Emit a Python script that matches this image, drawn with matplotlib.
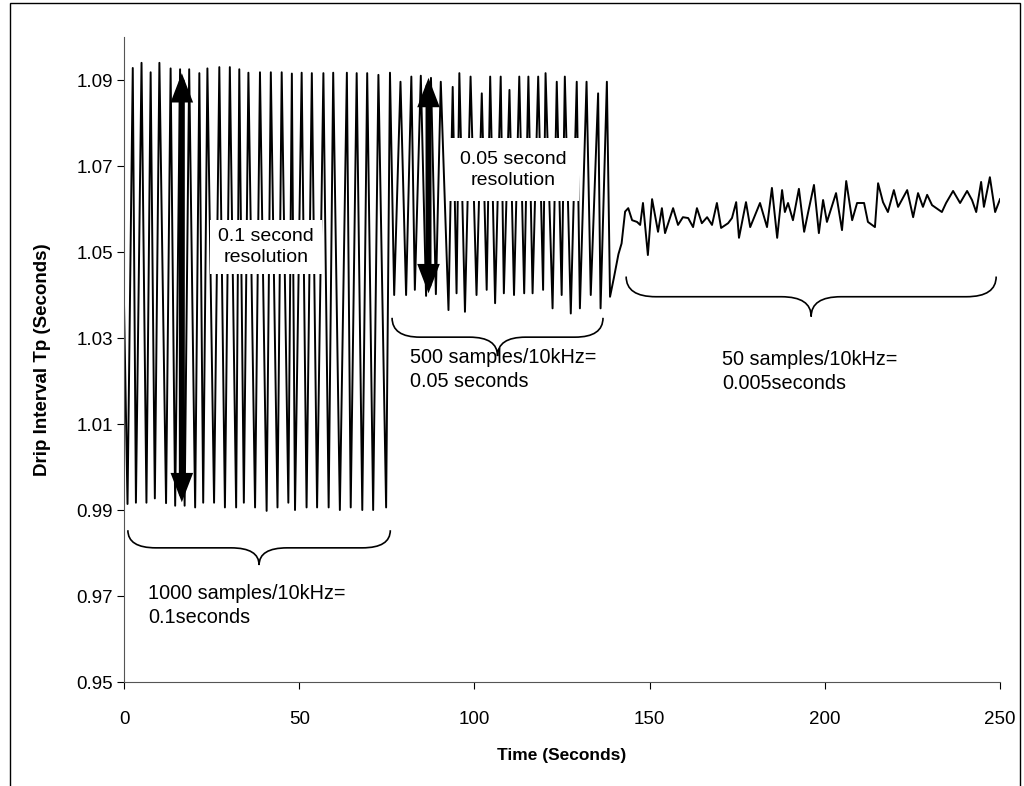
import matplotlib
matplotlib.use('Agg')
import matplotlib.pyplot as plt
from matplotlib.patches import Rectangle, PathPatch
from matplotlib.path import Path

plt.rcParams['font.family'] = ['Liberation Sans', 'DejaVu Sans']

# 1000 samples per interval -> 0.1 s resolution
t_1000 = [0.0, 1.0, 2.5, 3.4, 5.0, 6.4, 7.6, 8.8, 10.1, 12.0, 13.3, 14.6, 16.0, 17.3,
          18.6, 20.3, 21.5, 22.6, 23.8, 25.7, 27.2, 28.8, 30.2, 32.0, 32.9, 34.2,
          35.5, 37.4, 38.8, 40.7, 41.9, 43.8, 45.0, 46.9, 47.9, 48.8, 50.7, 52.1,
          53.6, 55.1, 56.9, 58.4, 59.7, 61.6, 63.6, 64.7, 66.4, 68.0, 69.4, 71.1,
          72.6, 74.8, 75.9]
tp_1000 = [1.0380, 0.9914, 1.0928, 0.9917, 1.0940, 0.9917, 1.0918, 0.9927, 1.0940,
           0.9916, 1.0927, 0.9910, 1.0925, 0.9910, 1.0925, 0.9906, 1.0916, 0.9917,
           1.0927, 0.9917, 1.0930, 0.9906, 1.0930, 0.9906, 1.0925, 0.9917, 1.0917,
           0.9906, 1.0918, 0.9898, 1.0918, 0.9906, 1.0918, 0.9917, 1.0915, 0.9900,
           1.0917, 0.9906, 1.0916, 0.9906, 1.0916, 0.9906, 1.0917, 0.9900, 1.0917,
           0.9906, 1.0916, 0.9900, 1.0916, 0.9900, 1.0912, 0.9906, 1.0917]

# 500 samples per interval -> 0.05 s resolution
t_500 = [77.1, 78.9, 80.5, 82.0, 83.0, 84.7, 86.2, 87.6, 89.0, 90.4, 92.6, 93.8,
         94.9, 95.7, 97.3, 98.9, 100.6, 102.1, 103.5, 104.5, 105.9, 107.5, 108.4,
         110.0, 111.3, 112.8, 114.2, 115.4, 116.6, 118.2, 119.6, 120.3, 122.3,
         123.5, 124.9, 125.8, 127.5, 129.2, 130.1, 132.0, 133.2, 135.3, 136.0,
         137.8, 138.7]
tp_500 = [1.0400, 1.0896, 1.0400, 1.0908, 1.0412, 1.0910, 1.0398, 1.0905, 1.0402,
          1.0896, 1.0365, 1.0884, 1.0404, 1.0916, 1.0361, 1.0908, 1.0400, 1.0869,
          1.0412, 1.0908, 1.0381, 1.0908, 1.0404, 1.0877, 1.0400, 1.0908, 1.0404,
          1.0908, 1.0404, 1.0908, 1.0412, 1.0916, 1.0369, 1.0896, 1.0400, 1.0908,
          1.0357, 1.0896, 1.0369, 1.0896, 1.0400, 1.0869, 1.0369, 1.0896, 1.0396]

# 50 samples per interval -> 0.005 s resolution
t_50 = [139.8, 141.1, 142.0, 143.0, 143.9, 145.0, 146.4, 147.3, 148.1, 149.5, 150.7,
        152.4, 153.5, 154.4, 156.7, 158.1, 159.5, 161.0, 162.4, 163.5, 164.9, 166.4,
        167.8, 169.2, 170.4, 172.4, 173.5, 174.7, 175.5, 177.5, 178.7, 181.5, 183.5,
        184.9, 186.4, 187.8, 188.6, 189.5, 190.9, 192.6, 194.1, 195.2, 196.9, 198.3,
        199.5, 200.6, 203.2, 204.9, 206.1, 207.8, 209.2, 211.2, 212.3, 214.3, 215.2,
        216.6, 218.0, 219.7, 220.9, 223.5, 225.2, 226.6, 228.0, 229.2, 230.6, 233.4,
        234.6, 236.6, 238.6, 240.6, 242.0, 243.2, 244.6, 245.4, 247.1, 248.6, 250.0]
tp_50 = [1.0440, 1.0495, 1.0520, 1.0594, 1.0602, 1.0574, 1.0570, 1.0563, 1.0614,
         1.0493, 1.0623, 1.0547, 1.0602, 1.0544, 1.0602, 1.0563, 1.0581, 1.0579,
         1.0558, 1.0602, 1.0567, 1.0581, 1.0563, 1.0614, 1.0556, 1.0567, 1.0579,
         1.0616, 1.0533, 1.0616, 1.0558, 1.0614, 1.0558, 1.0649, 1.0533, 1.0644,
         1.0593, 1.0614, 1.0574, 1.0647, 1.0547, 1.0591, 1.0656, 1.0544, 1.0621,
         1.0570, 1.0637, 1.0551, 1.0665, 1.0574, 1.0614, 1.0614, 1.0570, 1.0558,
         1.0660, 1.0616, 1.0593, 1.0644, 1.0605, 1.0644, 1.0581, 1.0637, 1.0605,
         1.0633, 1.0609, 1.0593, 1.0614, 1.0642, 1.0614, 1.0642, 1.0621, 1.0593,
         1.0663, 1.0605, 1.0674, 1.0593, 1.0623]

x_ticks = [0, 50, 100, 150, 200, 250]
y_ticks = [0.95, 0.97, 0.99, 1.01, 1.03, 1.05, 1.07, 1.09]

window_labels = ['1000 samples/10kHz=\n0.1seconds',
                 '500 samples/10kHz=\n0.05 seconds',
                 '50 samples/10kHz=\n0.005seconds']


def brace(ax, x0, x1, y_top, y_mid, y_tip, r):
    xc = (x0 + x1) / 2
    verts = [(x0, y_top), (x0, y_mid), (x0 + r, y_mid),
             (xc - r, y_mid), (xc, y_mid), (xc, y_tip),
             (xc, y_mid), (xc + r, y_mid),
             (x1 - r, y_mid), (x1, y_mid), (x1, y_top)]
    codes = [Path.MOVETO, Path.CURVE3, Path.CURVE3,
             Path.LINETO, Path.CURVE3, Path.CURVE3,
             Path.CURVE3, Path.CURVE3,
             Path.LINETO, Path.CURVE3, Path.CURVE3]
    ax.add_patch(PathPatch(Path(verts, codes), fill=False, lw=1.2, ec='black'))


def double_arrow(ax, x, y0, y1):
    ax.annotate('', xy=(x, y1), xytext=(x, y0),
                arrowprops=dict(arrowstyle='<|-|>,head_length=1.3,head_width=0.5',
                                mutation_scale=10, lw=4.3, color='black',
                                shrinkA=0, shrinkB=0, joinstyle='miter'),
                zorder=4)


fig = plt.figure(figsize=(10.24, 7.86), dpi=100)
ax = fig.add_axes([0.1211, 0.1323, 0.8555, 0.8206])

t_all = t_1000 + t_500 + t_50
tp_all = tp_1000 + tp_500 + tp_50
ax.plot(t_all, tp_all, color='black', lw=1.4, zorder=2)

ax.set_xlim(0, 250)
ax.set_ylim(0.95, 1.10)
ax.set_xticks(x_ticks)
ax.set_yticks(y_ticks)
ax.set_yticklabels(['%.2f' % v for v in y_ticks])
ax.tick_params(direction='out', length=5, width=0.8, labelsize=13.5)
ax.tick_params(axis='x', pad=16)
ax.tick_params(axis='y', pad=3)
ax.spines['top'].set_visible(False)
ax.spines['right'].set_visible(False)
ax.spines['left'].set_color('#555555')
ax.spines['bottom'].set_color('#555555')

ax.set_xlabel('Time (Seconds)', fontsize=12.5, fontweight='bold', labelpad=14)
ax.set_ylabel('Drip Interval Tp (Seconds)', fontsize=13.5, fontweight='bold', labelpad=18)

# resolution arrows and labels
double_arrow(ax, 16.5, 0.9918, 1.0916)
double_arrow(ax, 86.9, 1.0404, 1.0905)
ax.text(40.5, 1.0512, '0.1 second\nresolution', ha='center', va='center',
        fontsize=14, zorder=3, linespacing=1.3,
        bbox=dict(facecolor='white', edgecolor='none', pad=6))
ax.text(111.0, 1.0691, '0.05 second\nresolution', ha='center', va='center',
        fontsize=14, zorder=3, linespacing=1.3,
        bbox=dict(facecolor='white', edgecolor='none', pad=9))

# sampling windows
brace(ax, 1.1, 76.0, 0.9853, 0.9812, 0.9772, 8.0)
brace(ax, 76.5, 136.7, 1.0347, 1.0302, 1.0258, 8.0)
brace(ax, 143.3, 248.9, 1.0443, 1.0396, 1.0350, 8.5)
ax.text(6.85, 0.9678, window_labels[0], ha='left', va='center', fontsize=14.3, linespacing=1.3)
ax.text(81.6, 1.0227, window_labels[1], ha='left', va='center', fontsize=14.3, linespacing=1.3)
ax.text(170.7, 1.0222, window_labels[2], ha='left', va='center', fontsize=14.3, linespacing=1.3)

# chart frame
fig.patches.append(Rectangle((10 / 1024, -0.02), 1010 / 1024, 1.02 - 3 / 786,
                             transform=fig.transFigure, fill=False, lw=1.0,
                             ec='black'))

fig.savefig('out.png', dpi=100)
